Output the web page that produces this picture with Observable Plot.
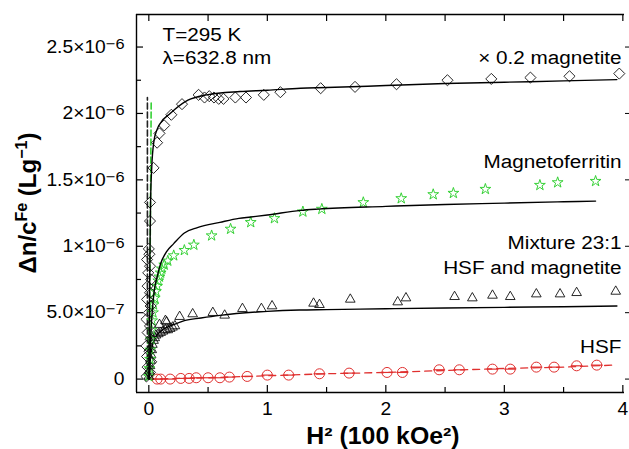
<!DOCTYPE html>
<html><head><meta charset="utf-8">
<script src="https://cdn.jsdelivr.net/npm/d3@7"></script>
<script src="https://cdn.jsdelivr.net/npm/@observablehq/plot@0.6"></script>
<style>
body{margin:0;background:#fff;}
#chart svg{display:block;}
</style></head><body><div id="chart"></div>
<script>
// ---- data (y in units of 1e-6 L/g, x = H^2 in 100 kOe^2) ----
const magnetiteH2 = [-0.02,0.01,-0.01,0.02,-0.015,0.005,-0.02,0.015,-0.01,0.01,-0.02,0.0,0.015,-0.015,0.01,-0.01,0.02,-0.005,0.01,-0.015,0.005,0.0,0.01,0.01,0.04,
  0.07,0.09,0.13,0.19,0.28,0.42,0.47,0.51,0.55,0.59,0.63,0.73,0.82,0.97,1.11,1.45,1.74,2.09,2.52,2.89,3.22,3.55,3.97];
const magnetiteDn = [0.02,0.05,0.09,0.13,0.17,0.21,0.25,0.3,0.35,0.4,0.45,0.5,0.55,0.6,0.65,0.7,0.75,0.8,0.85,0.9,0.94,0.98,1.19,1.33,1.59,
  1.78,1.85,1.91,1.99,2.07,2.14,2.12,2.13,2.12,2.11,2.11,2.12,2.12,2.14,2.16,2.19,2.20,2.22,2.25,2.26,2.27,2.28,2.30];
const magnetiteFitH2 = [0,0.005,0.01,0.015,0.025,0.043,0.07,0.1,0.18,0.33,0.49,0.77,1.0,1.28,1.5,2,2.5,3,3.5,3.95];
const magnetiteFitDn = [0,0.55,1.0,1.34,1.6,1.79,1.88,1.93,2.0,2.1,2.14,2.165,2.175,2.19,2.195,2.21,2.225,2.235,2.245,2.255];
const magnetiteLowFitH2 = [-0.012,-0.012];
const magnetiteLowFitDn = [0,2.12];

const ferritinH2 = [0.0,0.005,0.01,0.012,0.018,0.022,0.028,0.035,0.04,0.05,0.06,0.07,0.08,0.09,0.1,0.11,0.13,
  0.16,0.21,0.3,0.38,0.53,0.69,0.86,1.06,1.30,1.46,1.81,2.13,2.40,2.57,2.84,3.30,3.45,3.77];
const ferritinDn = [0.02,0.08,0.15,0.22,0.3,0.37,0.44,0.5,0.56,0.61,0.66,0.7,0.74,0.77,0.8,0.83,0.86,
  0.89,0.93,0.97,1.01,1.08,1.13,1.18,1.21,1.26,1.28,1.33,1.36,1.39,1.40,1.43,1.46,1.48,1.49];
const ferritinFitH2 = [0.005,0.015,0.03,0.045,0.07,0.1,0.15,0.21,0.3,0.41,0.6,0.76,0.86,1.0,1.28,1.43,2,2.5,3,3.5,3.77];
const ferritinFitDn = [0,0.3,0.52,0.66,0.77,0.87,0.96,1.02,1.1,1.14,1.18,1.21,1.22,1.235,1.27,1.28,1.30,1.315,1.325,1.335,1.34];
const ferritinLowFitH2 = [0.004,0.02];
const ferritinLowFitDn = [0,2.08];

const mixtureH2 = [0.0,0.005,0.01,0.015,0.02,0.025,0.03,0.04,0.05,0.06,0.08,0.1,0.12,0.14,0.16,0.18,0.2,0.22,
  0.09,0.14,0.15,0.26,0.37,0.54,0.64,0.79,0.95,1.04,1.39,1.44,1.70,2.10,2.17,2.58,2.73,2.90,3.05,3.27,3.47,3.61,3.94];
const mixtureDn = [0.02,0.06,0.1,0.14,0.18,0.22,0.26,0.29,0.31,0.33,0.34,0.35,0.36,0.37,0.37,0.38,0.39,0.40,
  0.41,0.44,0.43,0.47,0.49,0.50,0.48,0.53,0.53,0.55,0.57,0.56,0.60,0.58,0.61,0.62,0.61,0.63,0.62,0.64,0.64,0.65,0.66];
const mixtureFitH2 = [0.003,0.01,0.03,0.06,0.1,0.21,0.3,0.44,0.6,1.0,1.27,1.5,2,2.5,3,3.5,3.95];
const mixtureFitDn = [0,0.12,0.25,0.32,0.36,0.41,0.44,0.46,0.48,0.51,0.52,0.523,0.53,0.535,0.54,0.545,0.55];

const hsfH2 = [0.07,0.1,0.18,0.27,0.34,0.4,0.5,0.6,0.68,0.83,1.0,1.18,1.44,1.69,2.01,2.14,2.45,2.62,2.90,3.05,3.27,3.42,3.61,3.78];
const hsfDn = [0,0,0,0.005,0.005,0.01,0.01,0.01,0.015,0.02,0.03,0.03,0.04,0.045,0.05,0.05,0.07,0.07,0.075,0.075,0.09,0.09,0.1,0.105];
const hsfErr = [0.05,0.05,0.05,0.05,0.05,0.05,0.05,0.05,0.05,0.05,0.05,0.05,0.05,0.05,0.05,0.05,0.05,0.05,0.05,0.05,0.05,0.05,0.05,0.05];
const hsfFitH2 = [0,0.5,1,1.5,2,2.5,3,3.5,3.92];
const hsfFitDn = [0,0.01,0.025,0.04,0.05,0.065,0.08,0.09,0.105];

const xTicks = [0,1,2,3,4];
const xMinorTicks = [0.5,1.5,2.5,3.5];
const yTicks = [0,0.5,1,1.5,2,2.5];
const yMinorTicks = [0.25,0.75,1.25,1.75,2.25];
const yTickLabels = ["0","5.0×10^−7","1×10^−6","1.5×10^−6","2×10^−6","2.5×10^−6"];

// ---- helpers ----
const pts = (xs, ys, e) => xs.map((x, i) => ({x, y: ys[i], e: e ? e[i] : 0}));
const W = 629, H = 449, mL = 136, mR = 5, mT = 14, mB = 57;
const fw = W - mL - mR, fh = H - mT - mB;
const xDomain = [-0.104, 4.014], yDomain = [-0.101, 2.745];
const GREEN = "#36d136", RED = "#e0302f";
const FONT = "'Liberation Sans', Arial, sans-serif";

function note(text, frameAnchor, dx, dy, textAnchor) {
  return Plot.text([text], {text: d => d, frameAnchor, dx, dy, textAnchor, lineAnchor: "middle", fontSize: 18, fill: "black"});
}

const chart = Plot.plot({
  width: W, height: H,
  marginLeft: mL, marginRight: mR, marginTop: mT, marginBottom: mB,
  x: {domain: xDomain},
  y: {domain: yDomain},
  style: {fontFamily: FONT, fontSize: "18px", color: "black", background: "white"},
  marks: [
    // axes labels
    Plot.axisX({ticks: xTicks, tickSize: 0, tickPadding: 10, label: null, tickFormat: d => String(d)}),
    Plot.axisY({ticks: yTicks, tickSize: 0, tickPadding: 12, label: null,
      tickFormat: d => yTickLabels[yTicks.indexOf(d)]}),
    Plot.axisY({anchor: "right", ticks: yTicks, tickSize: 5, label: null, tickFormat: () => ""}),
    // inward ticks
    Plot.gridX(xTicks, {stroke: "black", strokeOpacity: 1, strokeWidth: 1.2, insetTop: fh - 7}),
    Plot.gridX(xMinorTicks, {stroke: "black", strokeOpacity: 1, strokeWidth: 1.2, insetTop: fh - 5}),
    Plot.gridX(xTicks, {stroke: "black", strokeOpacity: 1, strokeWidth: 1.2, insetBottom: fh - 7}),
    Plot.gridX(xMinorTicks, {stroke: "black", strokeOpacity: 1, strokeWidth: 1.2, insetBottom: fh - 7}),
    Plot.gridY(yTicks, {stroke: "black", strokeOpacity: 1, strokeWidth: 1.2, insetRight: fw - 7}),
    Plot.gridY(yMinorTicks, {stroke: "black", strokeOpacity: 1, strokeWidth: 1.2, insetRight: fw - 5}),
    // frame (left, top, bottom)
    Plot.ruleX([xDomain[0]], {stroke: "black", strokeWidth: 1.4}),
    Plot.ruleY([yDomain[0], yDomain[1]], {stroke: "black", strokeWidth: 1.4}),

    // near-zero dashed fits
    Plot.line(pts(magnetiteLowFitH2, magnetiteLowFitDn), {x: "x", y: "y", stroke: "#222", strokeWidth: 1.6, strokeDasharray: "6,3"}),
    Plot.line(pts(ferritinLowFitH2, ferritinLowFitDn), {x: "x", y: "y", stroke: GREEN, strokeWidth: 1.6, strokeDasharray: "6,3"}),

    // HSF
    Plot.line(pts(hsfFitH2, hsfFitDn), {x: "x", y: "y", stroke: RED, strokeWidth: 1.3, strokeDasharray: "7,5"}),
    Plot.link(pts(hsfH2, hsfDn, hsfErr), {x1: d => d.x - d.e, x2: d => d.x + d.e, y1: "y", y2: "y", stroke: RED, strokeWidth: 1.2}),
    Plot.dot(pts(hsfH2, hsfDn), {x: "x", y: "y", r: 5, stroke: RED, strokeWidth: 1, fill: "none"}),

    // Mixture
    Plot.dot(pts(mixtureH2, mixtureDn), {x: "x", y: "y", symbol: "triangle2", r: 4.6, stroke: "#111", strokeWidth: 0.9, fill: "none"}),
    Plot.line(pts(mixtureFitH2, mixtureFitDn), {x: "x", y: "y", stroke: "black", strokeWidth: 1.4, curve: "monotone-x"}),

    // Magnetoferritin
    Plot.dot(pts(ferritinH2, ferritinDn), {x: "x", y: "y", symbol: "star", r: 3.4, stroke: GREEN, strokeWidth: 1, fill: "none"}),
    Plot.line(pts(ferritinFitH2, ferritinFitDn), {x: "x", y: "y", stroke: "black", strokeWidth: 1.4, curve: "monotone-x"}),

    // Magnetite
    Plot.dot(pts(magnetiteH2, magnetiteDn), {x: "x", y: "y", symbol: "diamond2", r: 5, stroke: "#111", strokeWidth: 0.9, fill: "none"}),
    Plot.line(pts(magnetiteFitH2, magnetiteFitDn), {x: "x", y: "y", stroke: "black", strokeWidth: 1.4, curve: "monotone-x"}),

    // annotations
    note("T=295 K", "top-left", 26, 21, "start"),
    note("λ=632.8 nm", "top-left", 26, 44, "start"),
    note("× 0.2 magnetite", "top-right", -3, 44, "end"),
    note("Magnetoferritin", "top-right", -3, 148, "end"),
    note("Mixture 23:1", "top-right", -3, 229, "end"),
    note("HSF and magnetite", "top-right", -3, 254, "end"),
    note("HSF", "top-right", -3, 333, "end")
  ]
});

document.getElementById("chart").append(chart);
const svg = d3.select(chart);

// superscripts in tick labels
svg.selectAll("text").each(function () {
  const t = this.textContent;
  if (t.includes("^")) {
    const [base, sup] = t.split("^");
    this.textContent = base;
    d3.select(this).append("tspan").attr("font-size", "85%").attr("dy", -4).text(sup);
  }
});

// stretch helper (reference typography is slightly wide)
function stretch(el, k) {
  const L = el.getComputedTextLength();
  if (L > 0) { el.setAttribute("textLength", L * k); el.setAttribute("lengthAdjust", "spacingAndGlyphs"); }
}
svg.selectAll('g[aria-label="y-axis tick label"] text, g[aria-label="x-axis tick label"] text').each(function () { stretch(this, 1.07); });
svg.selectAll('g[aria-label="text"] text').each(function () { stretch(this, 1.15); });

// axis titles
const yt = svg.append("text")
  .attr("transform", `translate(36,${mT + fh / 2}) rotate(-90)`)
  .attr("text-anchor", "middle").attr("font-weight", "bold").attr("font-size", 24)
  .attr("font-family", FONT).attr("fill", "black");
yt.append("tspan").text("Δn/c");
yt.append("tspan").attr("font-size", "67%").attr("dy", -9).text("Fe");
yt.append("tspan").attr("dy", 9).text(" (Lg");
yt.append("tspan").attr("font-size", "67%").attr("dy", -9).text("−1");
yt.append("tspan").attr("dy", 9).text(")");

const xt = svg.append("text")
  .attr("x", mL + fw / 2 + 3).attr("y", 444)
  .attr("text-anchor", "middle").attr("font-weight", "bold").attr("font-size", 23)
  .attr("font-family", FONT).attr("fill", "black")
  .text("H² (100 kOe²)");
stretch(xt.node(), 1.08);
</script>
</body></html>
